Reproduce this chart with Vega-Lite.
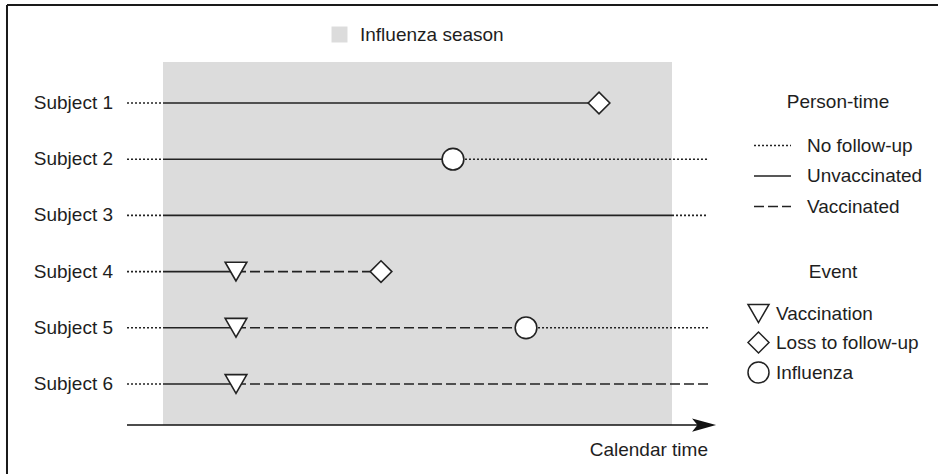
{
  "$schema": "https://vega.github.io/schema/vega-lite/v6.json",
  "width": 938,
  "height": 474,
  "autosize": {"type": "none"},
  "padding": 0,
  "background": "white",
  "config": {
    "view": {"stroke": null},
    "font": "Liberation Sans",
    "text": {"font": "Liberation Sans", "fontSize": 19, "color": "#1e1e1e"},
    "legend": {
      "padding": 0,
      "labelFont": "Liberation Sans",
      "labelFontSize": 19,
      "labelColor": "#1e1e1e",
      "titleFont": "Liberation Sans",
      "titleFontSize": 19,
      "titleFontWeight": "normal",
      "titleColor": "#1e1e1e",
      "titleAnchor": "middle",
      "labelLimit": 300
    }
  },
  "datasets": {
    "segments": [
      {"subject": 1, "start": -7.07, "end": 0, "status": "No follow-up"},
      {"subject": 1, "start": 0, "end": 85.66, "status": "Unvaccinated"},
      {"subject": 2, "start": -7.07, "end": 0, "status": "No follow-up"},
      {"subject": 2, "start": 0, "end": 56.97, "status": "Unvaccinated"},
      {"subject": 2, "start": 56.97, "end": 107.07, "status": "No follow-up"},
      {"subject": 3, "start": -7.07, "end": 0, "status": "No follow-up"},
      {"subject": 3, "start": 0, "end": 100, "status": "Unvaccinated"},
      {"subject": 3, "start": 100, "end": 107.07, "status": "No follow-up"},
      {"subject": 4, "start": -7.07, "end": 0, "status": "No follow-up"},
      {"subject": 4, "start": 0, "end": 14.34, "status": "Unvaccinated"},
      {"subject": 4, "start": 14.34, "end": 42.83, "status": "Vaccinated"},
      {"subject": 5, "start": -7.07, "end": 0, "status": "No follow-up"},
      {"subject": 5, "start": 0, "end": 14.34, "status": "Unvaccinated"},
      {"subject": 5, "start": 14.34, "end": 71.32, "status": "Vaccinated"},
      {"subject": 5, "start": 71.32, "end": 107.07, "status": "No follow-up"},
      {"subject": 6, "start": -7.07, "end": 0, "status": "No follow-up"},
      {"subject": 6, "start": 0, "end": 14.34, "status": "Unvaccinated"},
      {"subject": 6, "start": 14.34, "end": 107.07, "status": "Vaccinated"}
    ],
    "events": [
      {"subject": 1, "time": 85.66, "event": "Loss to follow-up"},
      {"subject": 2, "time": 56.97, "event": "Influenza"},
      {"subject": 4, "time": 14.34, "event": "Vaccination"},
      {"subject": 4, "time": 42.83, "event": "Loss to follow-up"},
      {"subject": 5, "time": 14.34, "event": "Vaccination"},
      {"subject": 5, "time": 71.32, "event": "Influenza"},
      {"subject": 6, "time": 14.34, "event": "Vaccination"}
    ],
    "subjects": [
      {"subject": 1, "label": "Subject 1", "start": -7.07},
      {"subject": 2, "label": "Subject 2", "start": -7.07},
      {"subject": 3, "label": "Subject 3", "start": -7.07},
      {"subject": 4, "label": "Subject 4", "start": -7.07},
      {"subject": 5, "label": "Subject 5", "start": -7.07},
      {"subject": 6, "label": "Subject 6", "start": -7.07}
    ],
    "season": [
      {"label": "Influenza season", "start": 0, "end": 100, "top": 0.27, "bottom": 6.73}
    ],
    "timeaxis": [
      {"start": -7.07, "end": 106, "tip": 106.3, "level": 6.73, "labelpos": 107.07, "labellevel": 7.174, "title": "Calendar time"}
    ],
    "frame": [
      {"left": -30.65, "right": 152.26, "top": -0.744, "bottom": 7.6014}
    ]
  },
  "layer": [
    {
      "data": {"name": "frame"},
      "mark": {"type": "rule", "color": "#1a1a1a", "strokeWidth": 2},
      "encoding": {
        "x": {"field": "left", "type": "quantitative", "scale": {"domain": [-32.024, 152.259], "nice": false, "zero": false}, "axis": null},
        "x2": {"field": "right"},
        "y": {"field": "top", "type": "quantitative", "scale": {"domain": [-0.8327, 7.6014], "nice": false, "zero": false, "reverse": true}, "axis": null}
      }
    },
    {
      "data": {"name": "frame"},
      "mark": {"type": "rule", "color": "#1a1a1a", "strokeWidth": 2},
      "encoding": {
        "x": {"field": "left", "type": "quantitative"},
        "y": {"field": "top", "type": "quantitative"},
        "y2": {"field": "bottom"}
      }
    },
    {
      "data": {"name": "season"},
      "mark": {"type": "rect"},
      "encoding": {
        "x": {"field": "start", "type": "quantitative"},
        "x2": {"field": "end"},
        "y": {"field": "top", "type": "quantitative"},
        "y2": {"field": "bottom"},
        "fill": {
          "field": "label", "type": "nominal",
          "scale": {"domain": ["Influenza season"], "range": ["#dcdcdc"]},
          "legend": {
            "title": null, "orient": "none", "legendX": 330, "legendY": 25,
            "symbolType": "square", "symbolSize": 256, "symbolStrokeWidth": 0,
            "labelOffset": 11
          }
        }
      }
    },
    {
      "data": {"name": "timeaxis"},
      "mark": {"type": "rule", "color": "#111", "strokeWidth": 1.6},
      "encoding": {
        "x": {"field": "start", "type": "quantitative"},
        "x2": {"field": "end"},
        "y": {"field": "level", "type": "quantitative"}
      }
    },
    {
      "data": {"name": "timeaxis"},
      "mark": {"type": "point", "shape": "M-1,-0.55L1,0L-1,0.55L-0.55,0Z", "size": 576, "filled": true, "color": "#111", "opacity": 1},
      "encoding": {
        "x": {"field": "tip", "type": "quantitative"},
        "y": {"field": "level", "type": "quantitative"}
      }
    },
    {
      "data": {"name": "timeaxis"},
      "mark": {"type": "text", "align": "right", "baseline": "middle"},
      "encoding": {
        "x": {"field": "labelpos", "type": "quantitative"},
        "y": {"field": "labellevel", "type": "quantitative"},
        "text": {"field": "title"}
      }
    },
    {
      "data": {"name": "segments"},
      "mark": {"type": "rule", "color": "#222", "strokeWidth": 1.6},
      "encoding": {
        "x": {"field": "start", "type": "quantitative"},
        "x2": {"field": "end"},
        "y": {"field": "subject", "type": "quantitative"},
        "strokeDash": {
          "field": "status", "type": "nominal",
          "scale": {"domain": ["No follow-up", "Unvaccinated", "Vaccinated"], "range": [[2, 2], [1, 0], [10, 4]]},
          "legend": {
            "title": "Person-time", "orient": "none", "legendX": 753, "legendY": 93,
            "symbolType": "stroke", "symbolSize": 1369, "symbolStrokeWidth": 1.6,
            "symbolStrokeColor": "#222", "labelOffset": 15, "rowPadding": 0.5, "titlePadding": 14
          }
        }
      }
    },
    {
      "data": {"name": "events"},
      "mark": {"type": "point", "filled": true, "fill": "white", "stroke": "#222", "strokeWidth": 1.6, "opacity": 1, "size": 470},
      "encoding": {
        "x": {"field": "time", "type": "quantitative"},
        "y": {"field": "subject", "type": "quantitative"},
        "shape": {
          "field": "event", "type": "nominal",
          "scale": {"domain": ["Vaccination", "Loss to follow-up", "Influenza"], "range": ["triangle-down", "diamond", "circle"]},
          "legend": {
            "title": "Event", "orient": "none", "legendX": 747, "legendY": 263,
            "symbolSize": 441, "labelOffset": 6, "rowPadding": 3, "titlePadding": 20,
            "encode": {
              "symbols": {
                "update": {
                  "fill": {"value": "white"},
                  "stroke": {"value": "#222"},
                  "strokeWidth": {"value": 1.6},
                  "opacity": {"value": 1},
                  "fillOpacity": {"value": 1},
                  "strokeOpacity": {"value": 1}
                }
              }
            }
          }
        }
      }
    },
    {
      "data": {"name": "subjects"},
      "mark": {"type": "text", "align": "right", "baseline": "middle", "dx": -14},
      "encoding": {
        "x": {"field": "start", "type": "quantitative"},
        "y": {"field": "subject", "type": "quantitative"},
        "text": {"field": "label"}
      }
    }
  ]
}
